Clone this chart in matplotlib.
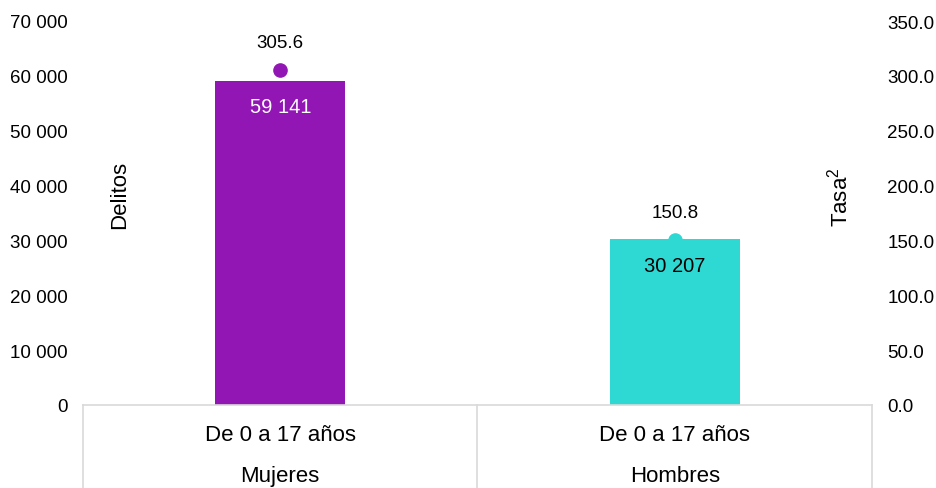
import matplotlib.pyplot as plt
from matplotlib.ticker import FuncFormatter

plt.rcParams['font.family'] = ['Liberation Sans', 'DejaVu Sans']

# datos
grupos = ['De 0 a 17 años', 'De 0 a 17 años']
sexos = ['Mujeres', 'Hombres']
delitos = [59141, 30207]
tasas = [305.6, 150.8]
colores = ['#9216B4', '#2ED9D4']
colores_texto = ['white', 'black']

W, H = 937, 489
fig = plt.figure(figsize=(W / 100, H / 100), dpi=100)
x0, x1, y_top, y_bot = 83, 872, 22, 406
ax = fig.add_axes([x0 / W, (H - y_bot) / H, (x1 - x0) / W, (y_bot - y_top) / H])

pos = list(range(len(delitos)))
ax.bar(pos, delitos, width=0.33, color=colores, zorder=2)
ax.set_xlim(-0.5, 1.5)
ax.set_ylim(0, 70000)
ax.set_yticks(range(0, 70001, 10000))
ax.yaxis.set_major_formatter(FuncFormatter(lambda v, p: f'{int(v):,}'.replace(',', ' ')))
ax.tick_params(axis='y', length=0, pad=11, labelsize=13.5)
ax.set_xticks([])
for s in ax.spines.values():
    s.set_visible(False)

for i, v in enumerate(delitos):
    ax.annotate(f'{v:,}'.replace(',', ' '), (i, v), xytext=(0, -19), textcoords='offset points',
                ha='center', va='center', fontsize=14.5, color=colores_texto[i])

ax2 = ax.twinx()
ax2.set_ylim(0, 350)
ax2.set_yticks(range(0, 351, 50))
ax2.yaxis.set_major_formatter(FuncFormatter(lambda v, p: f'{v:.1f}'))
ax2.tick_params(axis='y', length=0, pad=11, labelsize=13.5)
for s in ax2.spines.values():
    s.set_visible(False)
for i, t in enumerate(tasas):
    ax2.plot(i, t, 'o', color=colores[i], markersize=9.5, zorder=3)
    ax2.annotate(f'{t:.1f}', (i, t), xytext=(0, 19.5), textcoords='offset points',
                 ha='center', va='center', fontsize=13.5)

# titulos de ejes dentro del area
fig.text(120 / W, 1 - 195 / H, 'Delitos', rotation=90, ha='center', va='center', fontsize=16)
fig.text(840 / W, 1 - 197 / H, r'Tasa$^{\mathregular{2}}$', rotation=90, ha='center', va='center', fontsize=16)

# tabla de categorias
gris = '#D9D9D9'
fig.add_artist(plt.Line2D([x0 / W, x1 / W], [(H - y_bot) / H] * 2, color=gris, lw=1.2))
for xv in [x0, (x0 + x1) / 2, x1]:
    fig.add_artist(plt.Line2D([xv / W] * 2, [0, (H - y_bot) / H], color=gris, lw=1.2))
for i in pos:
    xc = (x0 + (x1 - x0) * (i + 0.5) / 2) / W
    fig.text(xc, 1 - 436 / H, grupos[i], ha='center', va='center', fontsize=16)
    fig.text(xc, 1 - 477 / H, sexos[i], ha='center', va='center', fontsize=16)

fig.savefig('out.png', dpi=100)
